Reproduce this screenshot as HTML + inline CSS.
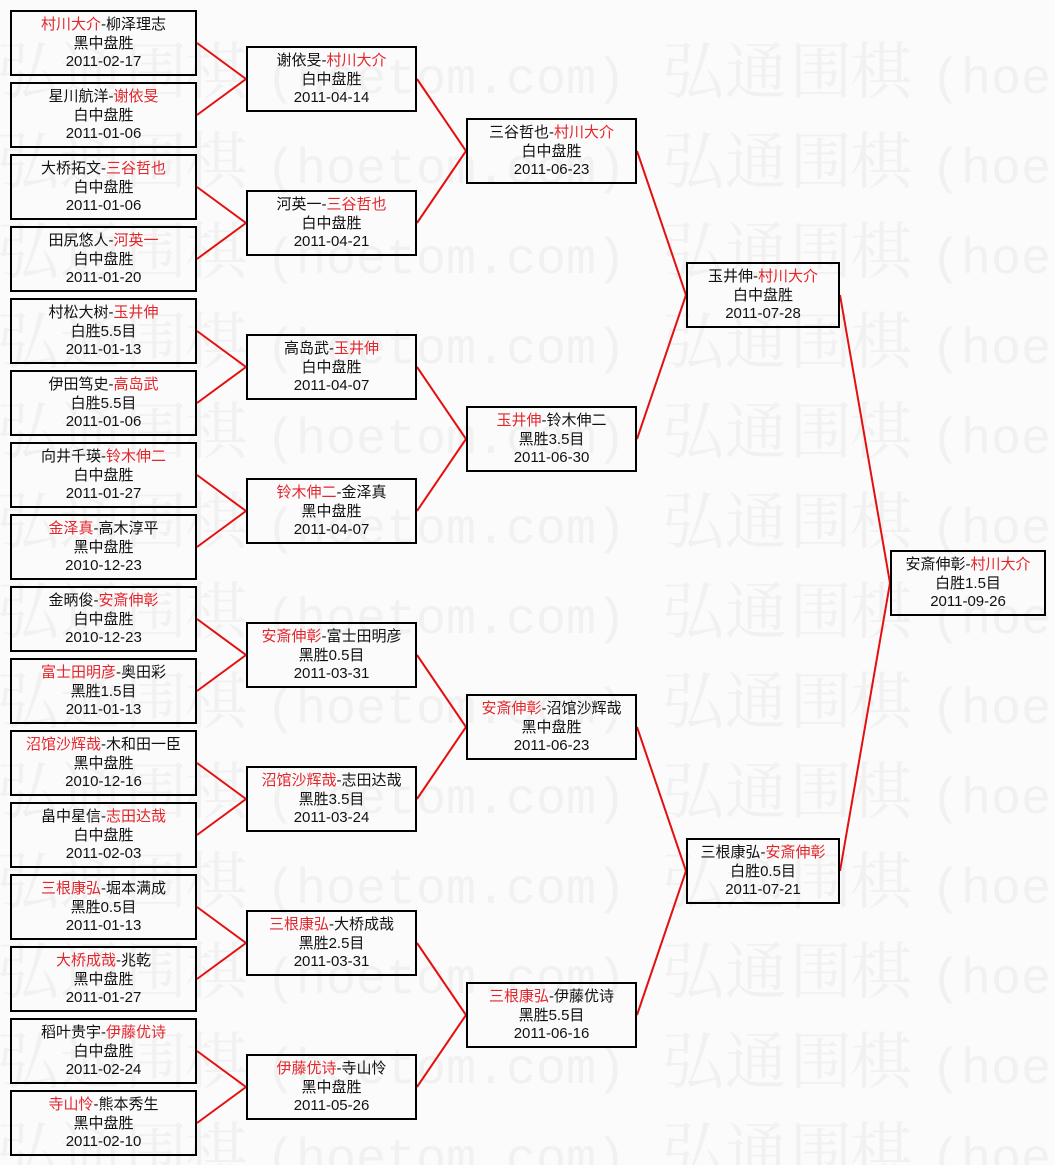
<!DOCTYPE html>
<html><head><meta charset="utf-8">
<style>
html,body{margin:0;padding:0;}
body{width:1055px;height:1165px;background:#fbfbfb;position:relative;overflow:hidden;
font-family:"Liberation Sans","Noto Sans CJK SC",sans-serif;}
svg{position:absolute;left:0;top:0;}
.b{position:absolute;box-sizing:border-box;height:66px;border:2px solid #000;display:flex;flex-direction:column;justify-content:center;align-items:center;text-align:center;font-size:15px;line-height:18.7px;color:#111;white-space:nowrap;padding-top:2px;}
.r{color:#e3262c;}
.c1{left:10px;width:187px;}
.c2{left:246px;width:171px;}
.c3{left:466px;width:171px;}
.c4{left:686px;width:154px;}
.c5{left:890px;width:156px;}
</style></head><body>
<svg width="1055" height="1165" xmlns="http://www.w3.org/2000/svg">
<g fill="#f1f1f1">
<g font-family="Noto Serif CJK SC, serif" font-size="62">
<text x="-3 60 125 185 662 725 790 850" y="93">弘通围棋弘通围棋</text>
<text x="-3 60 125 185 662 725 790 850" y="183">弘通围棋弘通围棋</text>
<text x="-3 60 125 185 662 725 790 850" y="273">弘通围棋弘通围棋</text>
<text x="-3 60 125 185 662 725 790 850" y="363">弘通围棋弘通围棋</text>
<text x="-3 60 125 185 662 725 790 850" y="453">弘通围棋弘通围棋</text>
<text x="-3 60 125 185 662 725 790 850" y="543">弘通围棋弘通围棋</text>
<text x="-3 60 125 185 662 725 790 850" y="633">弘通围棋弘通围棋</text>
<text x="-3 60 125 185 662 725 790 850" y="723">弘通围棋弘通围棋</text>
<text x="-3 60 125 185 662 725 790 850" y="813">弘通围棋弘通围棋</text>
<text x="-3 60 125 185 662 725 790 850" y="903">弘通围棋弘通围棋</text>
<text x="-3 60 125 185 662 725 790 850" y="993">弘通围棋弘通围棋</text>
<text x="-3 60 125 185 662 725 790 850" y="1083">弘通围棋弘通围棋</text>
<text x="-3 60 125 185 662 725 790 850" y="1173">弘通围棋弘通围棋</text>
</g>
<g font-family="Liberation Mono, monospace" font-size="50">
<text x="266" y="93">(hoetom.com)</text><text x="931" y="93">(hoetom.com)</text>
<text x="266" y="183">(hoetom.com)</text><text x="931" y="183">(hoetom.com)</text>
<text x="266" y="273">(hoetom.com)</text><text x="931" y="273">(hoetom.com)</text>
<text x="266" y="363">(hoetom.com)</text><text x="931" y="363">(hoetom.com)</text>
<text x="266" y="453">(hoetom.com)</text><text x="931" y="453">(hoetom.com)</text>
<text x="266" y="543">(hoetom.com)</text><text x="931" y="543">(hoetom.com)</text>
<text x="266" y="633">(hoetom.com)</text><text x="931" y="633">(hoetom.com)</text>
<text x="266" y="723">(hoetom.com)</text><text x="931" y="723">(hoetom.com)</text>
<text x="266" y="813">(hoetom.com)</text><text x="931" y="813">(hoetom.com)</text>
<text x="266" y="903">(hoetom.com)</text><text x="931" y="903">(hoetom.com)</text>
<text x="266" y="993">(hoetom.com)</text><text x="931" y="993">(hoetom.com)</text>
<text x="266" y="1083">(hoetom.com)</text><text x="931" y="1083">(hoetom.com)</text>
<text x="266" y="1173">(hoetom.com)</text><text x="931" y="1173">(hoetom.com)</text>
</g>
</g>
<g fill="none" stroke="#e41010" stroke-width="2">
<polyline points="197,43 246,79 197,115"/>
<polyline points="197,187 246,223 197,259"/>
<polyline points="197,331 246,367 197,403"/>
<polyline points="197,475 246,511 197,547"/>
<polyline points="197,619 246,655 197,691"/>
<polyline points="197,763 246,799 197,835"/>
<polyline points="197,907 246,943 197,979"/>
<polyline points="197,1051 246,1087 197,1123"/>
<polyline points="417,79 466,151 417,223"/>
<polyline points="417,367 466,439 417,511"/>
<polyline points="417,655 466,727 417,799"/>
<polyline points="417,943 466,1015 417,1087"/>
<polyline points="637,151 686,295 637,439"/>
<polyline points="637,727 686,871 637,1015"/>
<polyline points="840,295 890,583 840,871"/>
</g>
</svg>

<!-- Round 1 -->
<div class="b c1" style="top:10px"><div><span class="r">村川大介</span>-柳泽理志</div><div>黑中盘胜</div><div>2011-02-17</div></div>
<div class="b c1" style="top:82px"><div>星川航洋-<span class="r">谢依旻</span></div><div>白中盘胜</div><div>2011-01-06</div></div>
<div class="b c1" style="top:154px"><div>大桥拓文-<span class="r">三谷哲也</span></div><div>白中盘胜</div><div>2011-01-06</div></div>
<div class="b c1" style="top:226px"><div>田尻悠人-<span class="r">河英一</span></div><div>白中盘胜</div><div>2011-01-20</div></div>
<div class="b c1" style="top:298px"><div>村松大树-<span class="r">玉井伸</span></div><div>白胜5.5目</div><div>2011-01-13</div></div>
<div class="b c1" style="top:370px"><div>伊田笃史-<span class="r">高岛武</span></div><div>白胜5.5目</div><div>2011-01-06</div></div>
<div class="b c1" style="top:442px"><div>向井千瑛-<span class="r">铃木伸二</span></div><div>白中盘胜</div><div>2011-01-27</div></div>
<div class="b c1" style="top:514px"><div><span class="r">金泽真</span>-高木淳平</div><div>黑中盘胜</div><div>2010-12-23</div></div>
<div class="b c1" style="top:586px"><div>金昞俊-<span class="r">安斎伸彰</span></div><div>白中盘胜</div><div>2010-12-23</div></div>
<div class="b c1" style="top:658px"><div><span class="r">富士田明彦</span>-奥田彩</div><div>黑胜1.5目</div><div>2011-01-13</div></div>
<div class="b c1" style="top:730px"><div><span class="r">沼馆沙辉哉</span>-木和田一臣</div><div>黑中盘胜</div><div>2010-12-16</div></div>
<div class="b c1" style="top:802px"><div>畠中星信-<span class="r">志田达哉</span></div><div>白中盘胜</div><div>2011-02-03</div></div>
<div class="b c1" style="top:874px"><div><span class="r">三根康弘</span>-堀本满成</div><div>黑胜0.5目</div><div>2011-01-13</div></div>
<div class="b c1" style="top:946px"><div><span class="r">大桥成哉</span>-兆乾</div><div>黑中盘胜</div><div>2011-01-27</div></div>
<div class="b c1" style="top:1018px"><div>稻叶贵宇-<span class="r">伊藤优诗</span></div><div>白中盘胜</div><div>2011-02-24</div></div>
<div class="b c1" style="top:1090px"><div><span class="r">寺山怜</span>-熊本秀生</div><div>黑中盘胜</div><div>2011-02-10</div></div>

<!-- Round 2 -->
<div class="b c2" style="top:46px"><div>谢依旻-<span class="r">村川大介</span></div><div>白中盘胜</div><div>2011-04-14</div></div>
<div class="b c2" style="top:190px"><div>河英一-<span class="r">三谷哲也</span></div><div>白中盘胜</div><div>2011-04-21</div></div>
<div class="b c2" style="top:334px"><div>高岛武-<span class="r">玉井伸</span></div><div>白中盘胜</div><div>2011-04-07</div></div>
<div class="b c2" style="top:478px"><div><span class="r">铃木伸二</span>-金泽真</div><div>黑中盘胜</div><div>2011-04-07</div></div>
<div class="b c2" style="top:622px"><div><span class="r">安斎伸彰</span>-富士田明彦</div><div>黑胜0.5目</div><div>2011-03-31</div></div>
<div class="b c2" style="top:766px"><div><span class="r">沼馆沙辉哉</span>-志田达哉</div><div>黑胜3.5目</div><div>2011-03-24</div></div>
<div class="b c2" style="top:910px"><div><span class="r">三根康弘</span>-大桥成哉</div><div>黑胜2.5目</div><div>2011-03-31</div></div>
<div class="b c2" style="top:1054px"><div><span class="r">伊藤优诗</span>-寺山怜</div><div>黑中盘胜</div><div>2011-05-26</div></div>

<!-- Round 3 -->
<div class="b c3" style="top:118px"><div>三谷哲也-<span class="r">村川大介</span></div><div>白中盘胜</div><div>2011-06-23</div></div>
<div class="b c3" style="top:406px"><div><span class="r">玉井伸</span>-铃木伸二</div><div>黑胜3.5目</div><div>2011-06-30</div></div>
<div class="b c3" style="top:694px"><div><span class="r">安斎伸彰</span>-沼馆沙辉哉</div><div>黑中盘胜</div><div>2011-06-23</div></div>
<div class="b c3" style="top:982px"><div><span class="r">三根康弘</span>-伊藤优诗</div><div>黑胜5.5目</div><div>2011-06-16</div></div>

<!-- Round 4 -->
<div class="b c4" style="top:262px"><div>玉井伸-<span class="r">村川大介</span></div><div>白中盘胜</div><div>2011-07-28</div></div>
<div class="b c4" style="top:838px"><div>三根康弘-<span class="r">安斎伸彰</span></div><div>白胜0.5目</div><div>2011-07-21</div></div>

<!-- Final -->
<div class="b c5" style="top:550px"><div>安斎伸彰-<span class="r">村川大介</span></div><div>白胜1.5目</div><div>2011-09-26</div></div>
</body></html>
